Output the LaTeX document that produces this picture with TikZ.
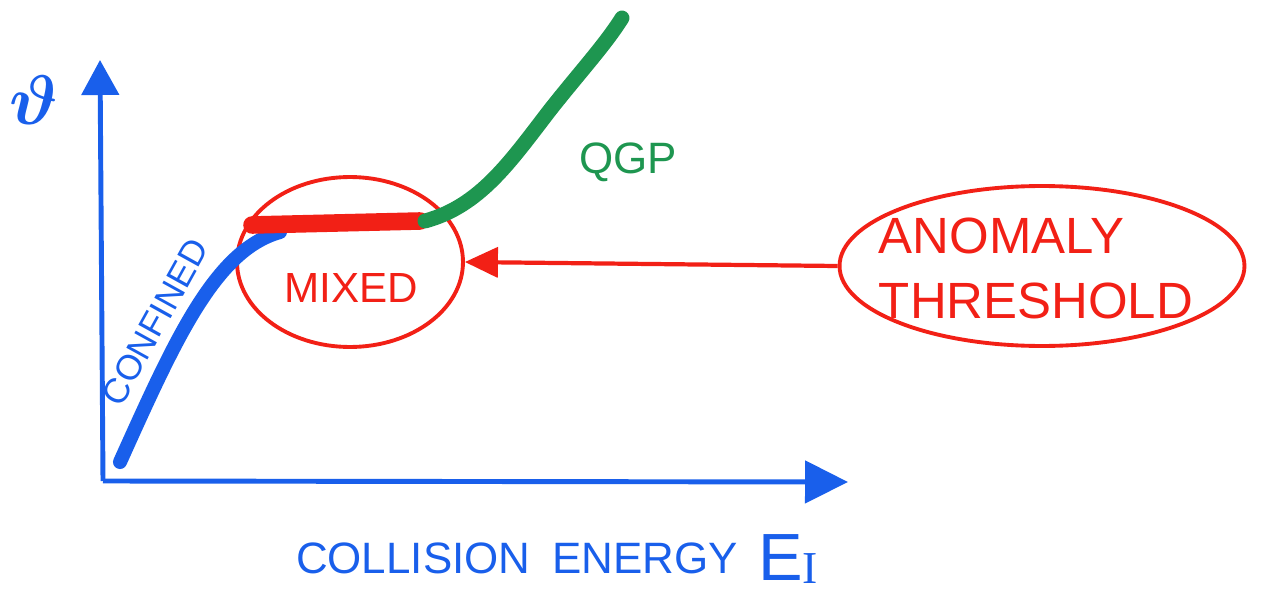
\documentclass[tikz,border=0pt]{standalone}
\usepackage{fontspec}
\setmainfont{Liberation Sans}
\newfontfamily\serifI{Liberation Serif}
\usetikzlibrary{arrows.meta,shapes.geometric}

\definecolor{penblue}{RGB}{25,95,235}
\definecolor{penred}{RGB}{242,32,22}
\definecolor{pengreen}{RGB}{30,150,80}

\tikzset{
    axis/.style={penblue,line width=2.8pt,-{Triangle[length=0.7cm,width=0.74cm]}},
    loop/.style={draw=penred,line width=2.2pt,ellipse,inner sep=0pt},
    hand/.style={inner sep=0pt},
}

\begin{document}
\begin{tikzpicture}[x=0.02cm,y=-0.02cm]
    \useasboundingbox (0,0) rectangle (1261,598);

    \coordinate (o) at (103,481);
    \coordinate (x) at (848,482);
    \coordinate (y) at (100,60);

    \draw [axis] (o) -- (y);
    \draw [axis,-{Triangle[length=0.86cm,width=0.84cm]}] (o) -- (x);

    \node [hand,penblue] (theta) at (34,100) {\scalebox{4}{\boldmath$\vartheta$}};
    \node [hand,penblue,font=\fontsize{25}{28}\selectfont] (elabel) at (517,558) {COLLISION\hspace{0.5em}ENERGY};
    \node [hand,penblue,font=\fontsize{38}{38}\selectfont,anchor=base west] (eone) at (758,580)
        {E\raisebox{-0.06cm}{\serifI\fontsize{26}{26}\selectfont I}};

    % phases
    \node [loop,minimum width=4.52cm,minimum height=3.4cm] (mixed) at (350,262) {};
    \node [hand,penred,font=\fontsize{24}{26}\selectfont] (mixedl) at (351,288) {MIXED};

    \node [loop,minimum width=8.1cm,minimum height=3.2cm] (anomaly) at (1042,266) {};
    \node [hand,penred,align=left,font=\fontsize{29}{37}\selectfont] (anomalyl) at (1036,268)
        {ANOMALY\\THRESHOLD};

    % curve
    \coordinate (cs) at (120,462);
    \coordinate (ce) at (280,232);
    \coordinate (ms) at (252,225);
    \coordinate (me) at (420,221);
    \coordinate (gs) at (425,221);
    \coordinate (ge) at (622,18);

    \draw [penblue,line width=8pt,line cap=round] (cs) .. controls (175,340) and (215,250) .. (ce);
    \draw [penred,line width=10pt,line cap=round] (ms) -- (me);
    \draw [pengreen,line width=8.5pt,line cap=round] (gs) .. controls (480,206) and (510,162) .. (550,110)
        .. controls (580,72) and (605,45) .. (ge);

    \node [hand,penblue,rotate=61,font=\fontsize{20}{20}\selectfont] (conf) at (155,322) {CONFINED};
    \node [hand,pengreen,font=\fontsize{25}{25}\selectfont] (qgp) at (628,162) {QGP};

    \draw [penred,line width=2.4pt,-{Triangle[length=0.66cm,width=0.6cm]}] (anomaly.west) -- (mixed.east);
\end{tikzpicture}
\end{document}
